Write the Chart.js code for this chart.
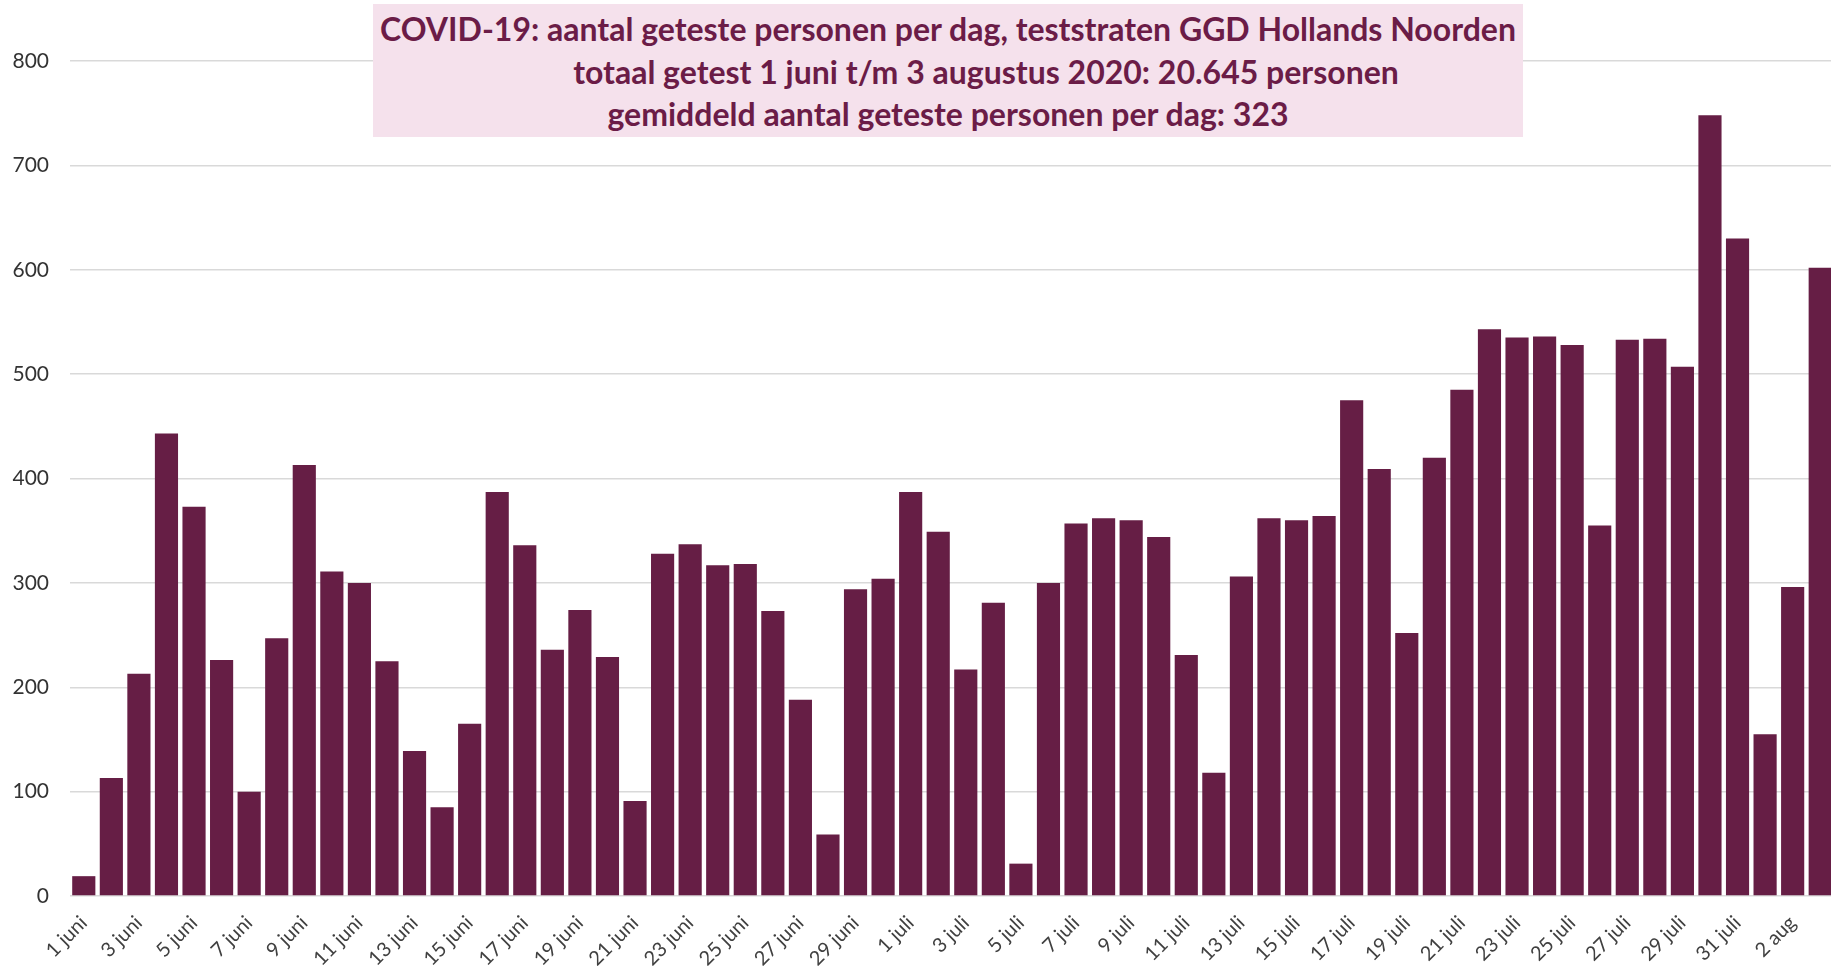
<!DOCTYPE html>
<html>
<head>
<meta charset="utf-8">
<script src="https://cdn.jsdelivr.net/npm/chart.js@4.4.1/dist/chart.umd.min.js"></script>
<style>
  html, body { margin: 0; padding: 0; background: #ffffff; overflow: hidden; }
  #wrap { position: relative; width: 1834px; height: 966px; }
  #titlebox { position: absolute; left: 373px; top: 4px; width: 1150px; height: 133px; background: #F5E1EC; }
  .tl { position: absolute; left: 0; width: 1150px; text-align: center; white-space: nowrap;
        font-family: Lato, "Open Sans", sans-serif; font-weight: bold; font-size: 32px; color: #6B1C47; line-height: 1; }
</style>
</head>
<body>
<div id="wrap">
  <canvas id="c"></canvas>
  <div id="titlebox">
    <div class="tl" id="t1" style="top:9px;"></div>
    <div class="tl" id="t2" style="top:52px; padding-left:76px; width:1074px;"></div>
    <div class="tl" id="t3" style="top:94px;"></div>
  </div>
</div>
<script>
// ---- data ----
const titleLines = [
  "COVID-19: aantal geteste personen per dag, teststraten GGD Hollands Noorden",
  "totaal getest 1 juni t/m 3 augustus 2020: 20.645 personen",
  "gemiddeld aantal geteste personen per dag: 323"
];
const juneDays = ["1 juni","2 juni","3 juni","4 juni","5 juni","6 juni","7 juni","8 juni","9 juni","10 juni",
  "11 juni","12 juni","13 juni","14 juni","15 juni","16 juni","17 juni","18 juni","19 juni","20 juni",
  "21 juni","22 juni","23 juni","24 juni","25 juni","26 juni","27 juni","28 juni","29 juni","30 juni"];
const julyDays = ["1 juli","2 juli","3 juli","4 juli","5 juli","6 juli","7 juli","8 juli","9 juli","10 juli",
  "11 juli","12 juli","13 juli","14 juli","15 juli","16 juli","17 juli","18 juli","19 juli","20 juli",
  "21 juli","22 juli","23 juli","24 juli","25 juli","26 juli","27 juli","28 juli","29 juli","30 juli","31 juli"];
const augDays = ["1 aug","2 aug","3 aug"];
const juneTested = [19,113,213,443,373,226,100,247,413,311,300,225,139,85,165,387,336,236,274,229,
  91,328,337,317,318,273,188,59,294,304];
const julyTested = [387,349,217,281,31,300,357,362,360,344,231,118,306,362,360,364,475,409,252,420,
  485,543,535,536,528,355,533,534,507,748,630];
const augTested = [155,296,602];
const yTicks = [0,100,200,300,400,500,600,700,800];

const categories = [...juneDays, ...julyDays, ...augDays];
const tested = [...juneTested, ...julyTested, ...augTested];

document.getElementById('t1').textContent = titleLines[0];
document.getElementById('t2').textContent = titleLines[1];
document.getElementById('t3').textContent = titleLines[2];

const FONT = "Lato, 'Open Sans', sans-serif";

new Chart(document.getElementById('c'), {
  type: 'bar',
  data: {
    labels: categories,
    datasets: [{
      data: tested,
      backgroundColor: '#661E45',
      borderWidth: 0,
      barPercentage: 1.0,
      categoryPercentage: 0.84
    }]
  },
  options: {
    responsive: true,
    maintainAspectRatio: false,
    animation: false,
    layout: { padding: { top: 61, left: 0, right: 0, bottom: 0 } },
    plugins: { legend: { display: false }, title: { display: false }, tooltip: { enabled: false } },
    scales: {
      x: {
        offset: true,
        grid: { display: false },
        border: { display: false },
        ticks: {
          autoSkip: false,
          maxRotation: 45,
          minRotation: 45,
          padding: 7,
          color: '#404040',
          font: { family: FONT, size: 20 },
          callback: function(v, i) { return i % 2 === 0 ? categories[i] : ''; }
        },
        afterFit: function(s) { s.height = 70; s.paddingLeft = 0; s.paddingRight = 0; }
      },
      y: {
        min: 0,
        max: 800,
        afterBuildTicks: function(s) { s.ticks = yTicks.map(v => ({ value: v })); },
        grid: { color: '#D9D9D9', lineWidth: 1.5, drawTicks: false },
        border: { display: false },
        ticks: {
          padding: 21,
          color: '#333333',
          font: { family: FONT, size: 21 }
        },
        afterFit: function(s) { s.width = 70; }
      }
    }
  }
});
</script>
</body>
</html>
